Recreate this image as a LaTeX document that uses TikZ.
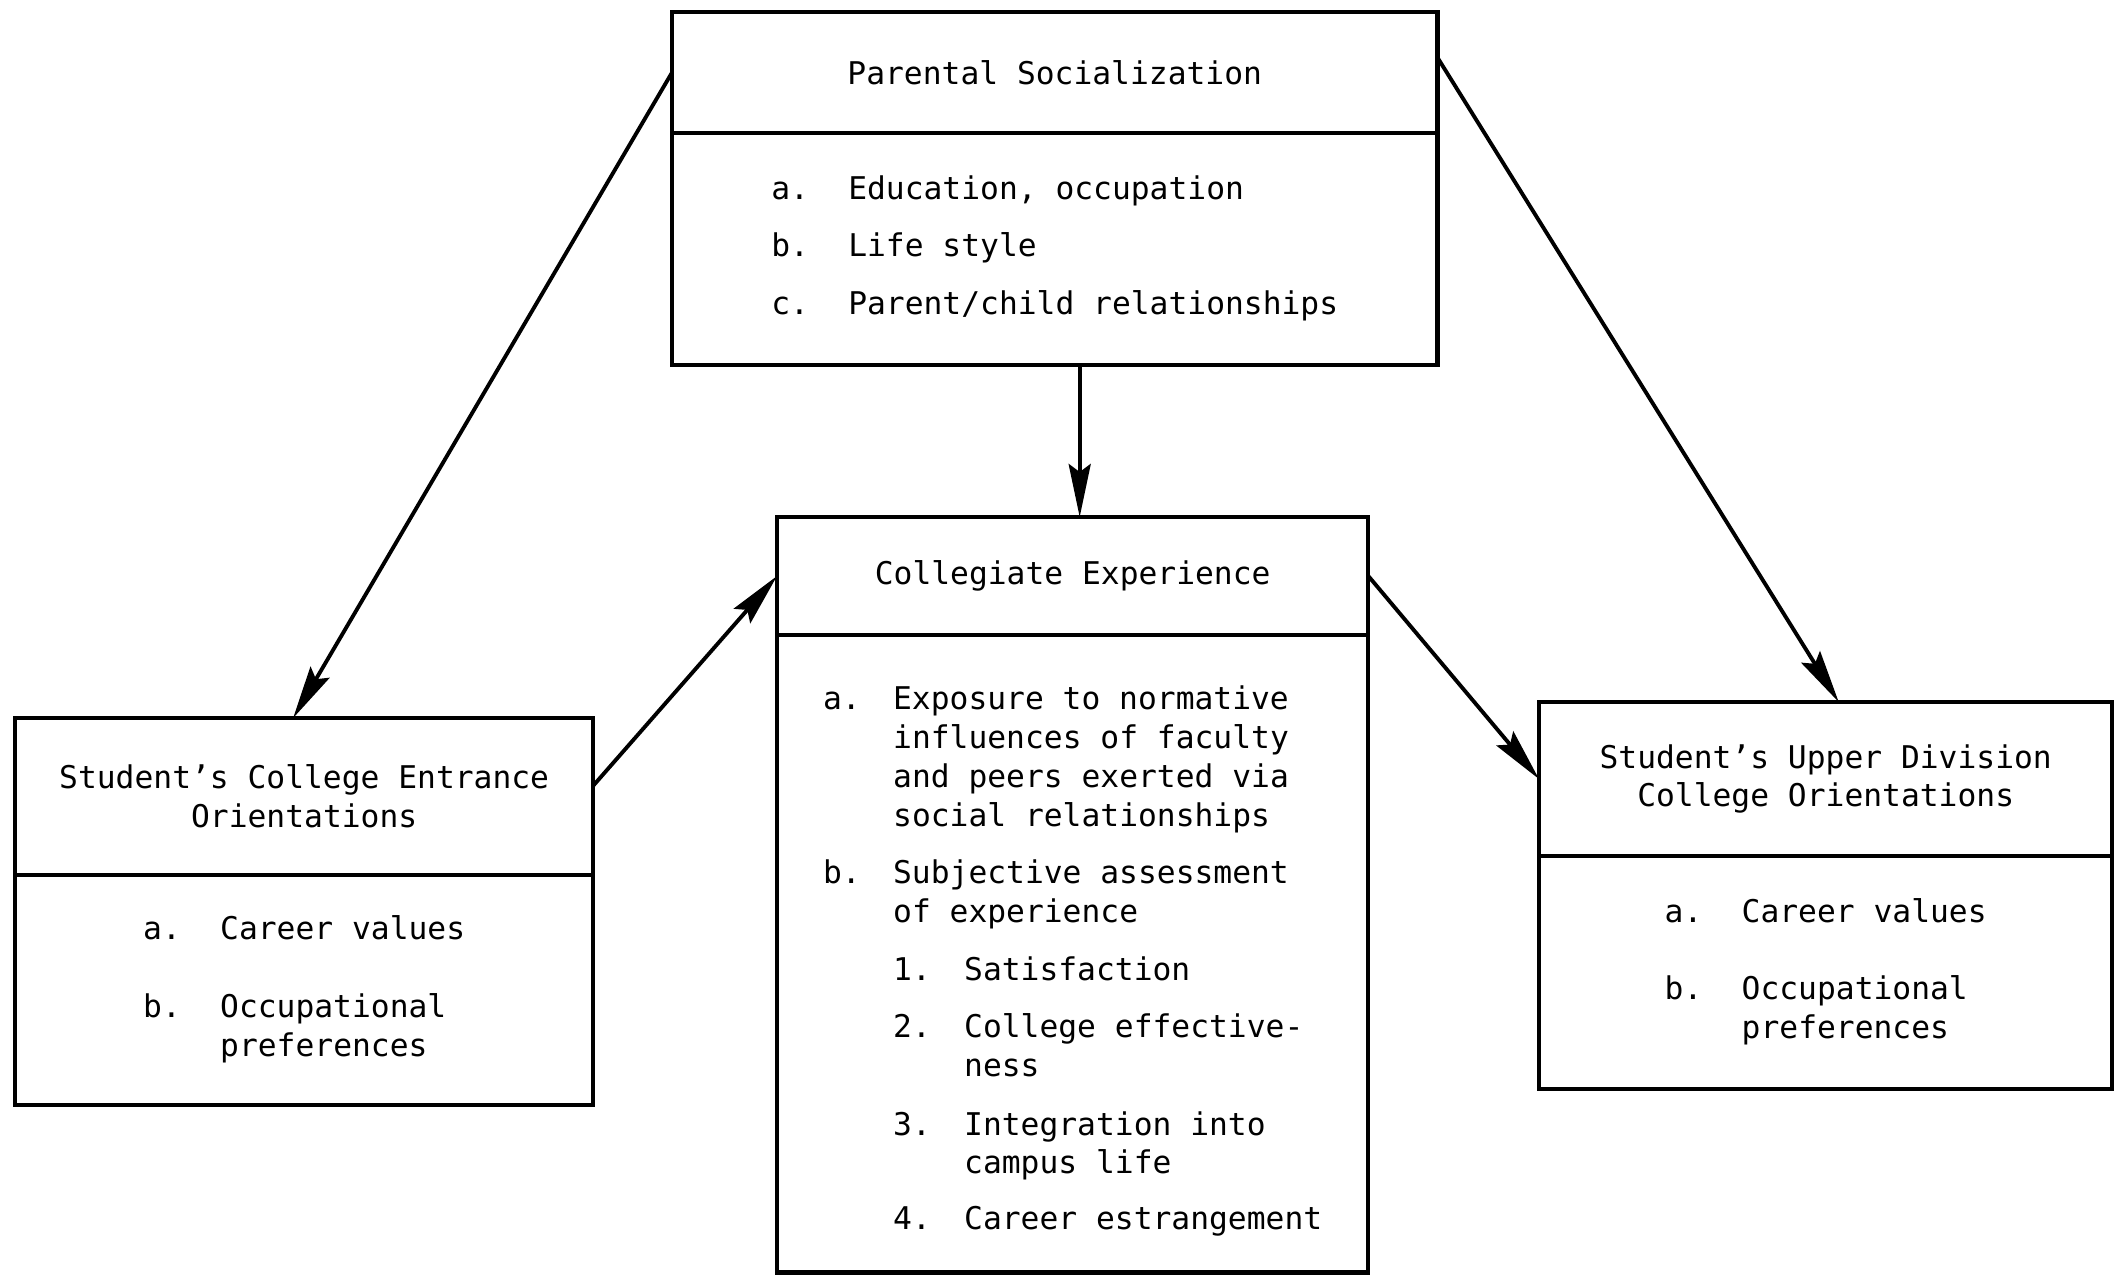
\documentclass[tikz,border=0pt]{standalone}
\usepackage{fontspec}
\setmainfont{DejaVu Sans Mono}
\usetikzlibrary{positioning,arrows.meta}

\tikzset{cadre/.style = {draw, line width=1.2pt, inner sep=0pt, outer sep=0pt,
                         minimum width=#1, align=center,
                         font=\fontsize{8.9}{11}\selectfont},
         cadre/.default=58mm,
         fleche/.style = {line width=1.1pt,
                          -{Stealth[length=5.3mm, width=2.2mm, inset=0.8mm]}}
        }
\newcommand\ligne[1]{\multicolumn{2}{@{}l@{}}{#1}}

\begin{document}
\begin{tikzpicture}[x=0.01cm, y=-0.01cm]
  \useasboundingbox (0,0) rectangle (2119,1275);

  \node[cadre=76.5mm, minimum height=12.1mm, anchor=north west] (parhead) at (672,12)
       {Parental Socialization};
  \node[cadre=76.5mm, minimum height=23.2mm, below=0pt of parhead] (parbody)
       {\begin{tabular}{@{}p{7.7mm}@{}l@{}}
        a. & Education, occupation\\[1.9mm]
        b. & Life style\\[1.9mm]
        c. & Parent/child relationships
        \end{tabular}};

  \node[cadre=59.1mm, minimum height=11.8mm, anchor=north west] (colhead) at (777,517)
       {Collegiate Experience};
  \node[cadre=59.1mm, minimum height=63.7mm, below=0pt of colhead] (colbody)
       {\begin{tabular}{@{}p{7mm}@{}p{7.1mm}@{}l@{}}
        a. & \ligne{Exposure to normative}\\
           & \ligne{influences of faculty}\\
           & \ligne{and peers exerted via}\\
           & \ligne{social relationships}\\[1.9mm]
        b. & \ligne{Subjective assessment}\\
           & \ligne{of experience}\\[1.9mm]
           & 1. & Satisfaction\\[1.9mm]
           & 2. & College effective-\\
           &    & ness\\[2mm]
           & 3. & Integration into\\
           &    & campus life\\[1.7mm]
           & 4. & Career estrangement
        \end{tabular}\\[-2mm]};

  \node[cadre=57.8mm, minimum height=15.7mm, anchor=north west] (enthead) at (15,718)
       {Student's College Entrance\\Orientations};
  \node[cadre=57.8mm, minimum height=23mm, below=0pt of enthead] (entbody)
       {\begin{tabular}{@{}p{7.7mm}@{}l@{}}
        a. & Career values\\[4mm]
        b. & Occupational\\
           & preferences
        \end{tabular}};

  \node[cadre=57.3mm, minimum height=15.4mm, anchor=north west] (upphead) at (1539,702)
       {Student's Upper Division\\College Orientations};
  \node[cadre=57.3mm, minimum height=23.3mm, below=0pt of upphead] (uppbody)
       {\begin{tabular}{@{}p{7.7mm}@{}l@{}}
        a. & Career values\\[3.8mm]
        b. & Occupational\\
           & preferences
        \end{tabular}};

  \coordinate (colentree) at ([xshift=0.7mm]colhead.north);
  \draw[fleche] (parhead.west) -- ([xshift=-1.1mm]enthead.north);
  \draw[fleche] (parbody.south -| colentree) -- (colentree);
  \draw[fleche] ([yshift=1.5mm]parhead.east) -- ([xshift=1.3mm]upphead.north);
  \draw[fleche] ([yshift=1.1mm]enthead.east) -- (colhead.west);
  \draw[fleche] (colhead.east) -- (upphead.west);
\end{tikzpicture}
\end{document}
